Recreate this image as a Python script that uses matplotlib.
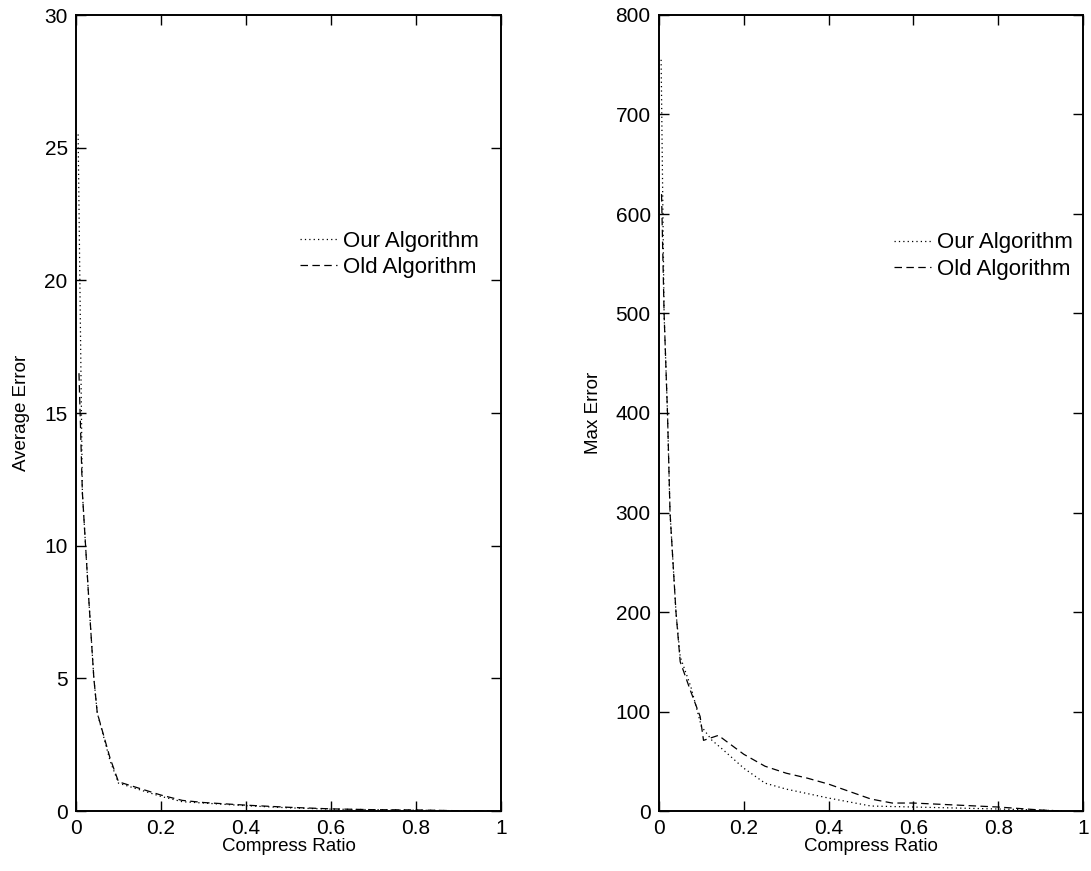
import matplotlib
matplotlib.use('Agg')
import matplotlib.pyplot as plt

plt.rcParams['font.family'] = ['Liberation Sans', 'DejaVu Sans']
plt.rcParams['font.size'] = 13.5

# left panel: average error
avg_x_our = [0.005, 0.015, 0.03, 0.042, 0.05, 0.08, 0.1, 0.2, 0.25, 0.3, 0.4, 0.5, 0.6, 0.7, 0.8, 0.9, 1.0]
avg_our = [25.5, 12.0, 8.0, 5.0, 3.7, 1.9, 1.05, 0.55, 0.35, 0.3, 0.2, 0.12, 0.07, 0.05, 0.03, 0.01, 0.0]
avg_x_old = [0.007, 0.015, 0.03, 0.042, 0.05, 0.08, 0.1, 0.2, 0.25, 0.3, 0.4, 0.5, 0.6, 0.7, 0.8, 0.9, 1.0]
avg_old = [16.5, 12.0, 8.0, 5.0, 3.7, 2.0, 1.1, 0.6, 0.4, 0.32, 0.22, 0.14, 0.08, 0.05, 0.04, 0.01, 0.0]

# right panel: max error
max_x_our = [0.005, 0.012, 0.02, 0.026, 0.04, 0.05, 0.075, 0.1, 0.125, 0.15, 0.2, 0.25, 0.3, 0.4, 0.5, 0.6, 0.7, 0.8, 0.9, 0.95]
max_our = [755, 500, 400, 300, 200, 155, 125, 85, 71, 62, 43, 28, 22, 13, 5, 4, 3, 2, 1, 0]
max_x_old = [0.006, 0.012, 0.02, 0.026, 0.04, 0.05, 0.075, 0.097, 0.105, 0.14, 0.2, 0.25, 0.3, 0.35, 0.4, 0.5, 0.55, 0.6, 0.7, 0.8, 0.9, 0.95]
max_old = [620, 500, 400, 300, 200, 150, 120, 95, 71, 76, 57, 45, 38, 33, 27, 12, 8, 8, 6, 4, 1, 0]

legend = ['Our Algorithm', 'Old Algorithm']
xticks = [0, 0.2, 0.4, 0.6, 0.8, 1]
xticklabels = ['0', '0.2', '0.4', '0.6', '0.8', '1']

fig = plt.figure(figsize=(10.91, 8.71), dpi=100)
ax1 = fig.add_axes([76/1091, 60/871, 425/1091, 796/871])
ax2 = fig.add_axes([659/1091, 60/871, 424/1091, 796/871])

dot = (0, (1, 2.5))
dash = (0, (6, 3.5))

def setup(ax, x_our, our, x_old, old, ylim, yticks, ylabel, leg_anchor):
    ax.plot(x_our, our, color='black', linestyle=dot, linewidth=0.9, label=legend[0])
    ax.plot(x_old, old, color='black', linestyle=dash, linewidth=0.9, label=legend[1])
    ax.set_xlim(0, 1)
    ax.set_ylim(*ylim)
    ax.set_xticks(xticks)
    ax.set_xticklabels(xticklabels)
    ax.set_yticks(yticks)
    ax.tick_params(direction='in', top=True, right=True, length=7, width=1, pad=6, labelsize=15)
    for s in ax.spines.values():
        s.set_linewidth(1.4)
    ax.set_xlabel('Compress Ratio', labelpad=0)
    ax.set_ylabel(ylabel, labelpad=10)
    ax.legend(loc='upper right', bbox_to_anchor=leg_anchor, frameon=False, fontsize=16,
              handlelength=1.7, handletextpad=0.25, labelspacing=0.25,
              borderaxespad=0, borderpad=0)

setup(ax1, avg_x_our, avg_our, avg_x_old, avg_old, (0, 30), range(0, 31, 5), 'Average Error', (0.948, 0.729))
setup(ax2, max_x_our, max_our, max_x_old, max_old, (0, 800), range(0, 801, 100), 'Max Error', (0.976, 0.727))

plt.savefig('out.png', dpi=100)
